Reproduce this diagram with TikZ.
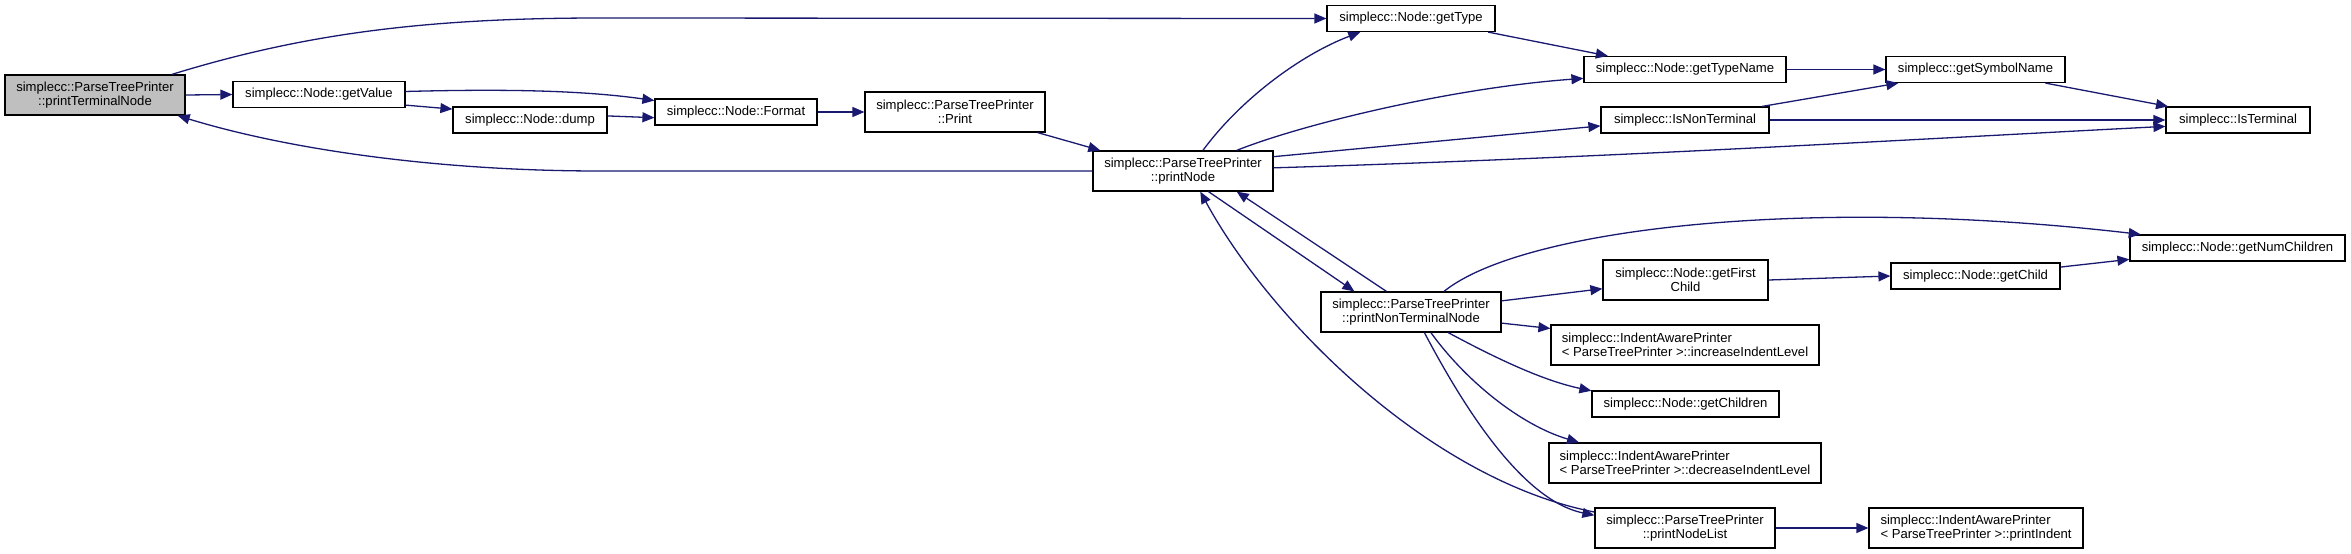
\documentclass[tikz,border=0pt]{standalone}
\usepackage{fontspec}
\setmainfont{Liberation Sans}
\usetikzlibrary{arrows.meta}
\definecolor{edgeBlue}{HTML}{191970}
\definecolor{rootGray}{HTML}{BFBFBF}

\begin{document}
\begin{tikzpicture}[x=1pt, y=-1pt,
    every node/.style={draw=black, line width=1.2pt, fill=white, inner sep=0pt, align=center, font={\fontsize{13.1}{14.5}\selectfont}},
    one/.style={minimum height=26pt},
    two/.style={minimum height=40pt},
    call/.style={-{Triangle[length=12pt,width=10pt]}, edgeBlue, line width=1.3pt}
  ]
  \useasboundingbox (0,0) rectangle (2351,554);

  % left chain
  \node[two, minimum width=180pt, fill=rootGray] (printterm) at (95,95) {simplecc::ParseTreePrinter\\::printTerminalNode};
  \node[one, minimum width=172pt] (getvalue) at (319,94.5) {simplecc::Node::getValue};
  \node[one, minimum width=154pt] (dump) at (530,120) {simplecc::Node::dump};
  \node[one, minimum width=162pt] (format) at (736,112) {simplecc::Node::Format};
  \node[two, minimum width=180pt] (print) at (955,112) {simplecc::ParseTreePrinter\\::Print};
  \node[two, minimum width=180pt] (printnode) at (1183,171) {simplecc::ParseTreePrinter\\::printNode};

  % upper right
  \node[one, minimum width=168pt] (gettype) at (1411,18.5) {simplecc::Node::getType};
  \node[one, minimum width=202pt] (gettypename) at (1685,69.5) {simplecc::Node::getTypeName};
  \node[one, minimum width=179pt] (getsymbol) at (1975.5,69.5) {simplecc::getSymbolName};
  \node[one, minimum width=168pt] (isnonterm) at (1685,120) {simplecc::IsNonTerminal};
  \node[one, minimum width=144pt] (isterm) at (2238,120) {simplecc::IsTerminal};

  % lower right
  \node[two, minimum width=180pt] (printnonterm) at (1411,312) {simplecc::ParseTreePrinter\\::printNonTerminalNode};
  \node[one, minimum width=215pt] (getnumch) at (2237.5,248) {simplecc::Node::getNumChildren};
  \node[two, minimum width=165pt] (getfirst) at (1685.5,280) {simplecc::Node::getFirst\\Child};
  \node[one, minimum width=169pt] (getchild) at (1975.5,276) {simplecc::Node::getChild};
  \node[two, minimum width=268pt, align=left] (incindent) at (1685,345) {simplecc::IndentAwarePrinter\\< ParseTreePrinter >::increaseIndentLevel};
  \node[one, minimum width=187pt] (getchildren) at (1685.5,404) {simplecc::Node::getChildren};
  \node[two, minimum width=272pt, align=left] (decindent) at (1685,463) {simplecc::IndentAwarePrinter\\< ParseTreePrinter >::decreaseIndentLevel};
  \node[two, minimum width=180pt] (printlist) at (1685,528) {simplecc::ParseTreePrinter\\::printNodeList};
  \node[two, minimum width=214pt, align=left] (printindent) at (1976,528) {simplecc::IndentAwarePrinter\\< ParseTreePrinter >::printIndent};

  % calls
  \draw[call] (printterm.east) -- (getvalue.west);
  \draw[call] (printterm.15) .. controls (300,35) and (420,18) .. (600,18) -- (gettype.west);
  \draw[call] (getvalue.2) .. controls (500,89) and (580,90) .. (format.172);
  \draw[call] (getvalue.-7) -- (dump.172);
  \draw[call] (dump.3) -- (format.-176);
  \draw[call] (format.east) -- (print.west);
  \draw[call] (print.-14) -- (printnode.166);
  \draw[call] (printnode.west) -- (600,171) .. controls (440,171) and (290,150) .. (printterm.-14);
  \draw[call] (printnode.46) .. controls (1240,100) and (1300,55) .. (gettype.-165);
  \draw[call] (printnode.21) .. controls (1300,125) and (1450,88) .. (gettypename.-175);
  \draw[call] (printnode.9) -- (isnonterm.-176);
  \draw[call] (printnode.2) .. controls (1600,158) and (1900,140) .. (isterm.-175);
  \draw[call] (printnode.-39) -- (printnonterm.160);
  \draw[call] (printnonterm.140) -- (printnode.-21);
  \draw[call] (printlist.170) .. controls (1430,480) and (1270,320) .. (printnode.-50);
  \draw[call] (printnonterm.-57) .. controls (1460,400) and (1520,500) .. (printlist.172);
  \draw[call] (printnonterm.7) -- (getfirst.-174);
  \draw[call] (printnonterm.-7) -- (incindent.173);
  \draw[call] (printnonterm.-29) .. controls (1490,355) and (1540,380) .. (getchildren.172);
  \draw[call] (printnonterm.-46) .. controls (1465,380) and (1520,425) .. (decindent.169);
  \draw[call] (printnonterm.32) .. controls (1520,230) and (1800,195) .. (getnumch.172);
  \draw[call] (gettype.-10) -- (gettypename.170);
  \draw[call] (gettypename.east) -- (getsymbol.west);
  \draw[call] (isnonterm.10) -- (getsymbol.-170);
  \draw[call] (isnonterm.east) -- (isterm.west);
  \draw[call] (getsymbol.-11) -- (isterm.169);
  \draw[call] (getfirst.east) -- (getchild.west);
  \draw[call] (getchild.6) -- (getnumch.-174);
  \draw[call] (printlist.east) -- (printindent.west);
\end{tikzpicture}
\end{document}
